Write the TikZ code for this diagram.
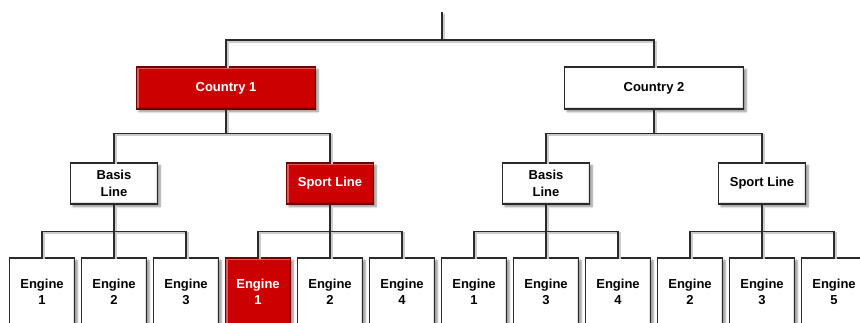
\documentclass[tikz,border=0pt]{standalone}
\usepackage{fontspec}
\setmainfont{Liberation Sans}
\usetikzlibrary{shadows.blur}
\definecolor{boxred}{HTML}{CC0000}
\definecolor{boxedge}{HTML}{2A2A2A}

\tikzset{
  box/.style={draw=boxedge, line width=1.4pt, fill=white, inner sep=0pt,
    align=center, font=\fontsize{13}{16.5}\selectfont\bfseries,
    blur shadow={shadow xshift=2.5pt, shadow yshift=-2.5pt,
      shadow blur steps=6, shadow opacity=45},
    path picture={
      \draw[black, opacity=0.12, line width=4pt]
        (path picture bounding box.north east) --
        (path picture bounding box.south east) --
        (path picture bounding box.south west);
      \draw[white, opacity=0.35, line width=4pt]
        (path picture bounding box.south west) --
        (path picture bounding box.north west) --
        (path picture bounding box.north east);
    }},
  hot/.style={fill=boxred, text=white, draw=boxred!55!black},
  countrybox/.style={box, minimum width=179pt, minimum height=42pt},
  linebox/.style={box, minimum width=87pt, minimum height=41pt},
  engine/.style={box, minimum width=65pt, minimum height=68pt},
  hotengine/.style={engine, hot},
  conn/.style={draw=boxedge, line width=1.3pt,
    preaction={draw=black!20, line width=2pt,
      transform canvas={shift={(1.5pt,-1.5pt)}}}}
}

\begin{document}
\begin{tikzpicture}[x=1pt, y=-1pt]
    \useasboundingbox (0,0) rectangle (860,322);

    % Wurzel
    \coordinate (top) at (442,12);

    % Laender
    \node[countrybox, hot] (c1) at (226,88) {Country 1};
    \node[countrybox] (c2) at (654,88) {Country 2};
    \draw[conn] (top) -- ++(0,28) -| (c1.north);
    \draw[conn] (top) -- ++(0,28) -| (c2.north);

    % Baureihen
    \node[linebox] (b1) at (114,183.5) {Basis\\Line};
    \node[linebox, hot] (s1) at (330,183.5) {Sport Line};
    \node[linebox] (b2) at (546,183.5) {Basis\\Line};
    \node[linebox] (s2) at (762,183.5) {Sport Line};
    \foreach \lname/\lpar in {b1/c1, s1/c1, b2/c2, s2/c2}
        \draw[conn] (\lpar.south) -- ++(0,24) -| (\lname.north);

    % Motoren
    \foreach \ex/\ename/\enum/\epar/\esty in {
        42/e1/1/b1/engine, 114/e2/2/b1/engine, 186/e3/3/b1/engine,
        258/e4/1/s1/hotengine, 330/e5/2/s1/engine, 402/e6/4/s1/engine,
        474/e7/1/b2/engine, 546/e8/3/b2/engine, 618/e9/4/b2/engine,
        690/e10/2/s2/engine, 762/e11/3/s2/engine, 834/e12/5/s2/engine}{
        \node[\esty] (\ename) at (\ex,292) {Engine\\\enum};
        \draw[conn] (\epar.south) -- ++(0,27) -| (\ename.north);
    }
\end{tikzpicture}
\end{document}
